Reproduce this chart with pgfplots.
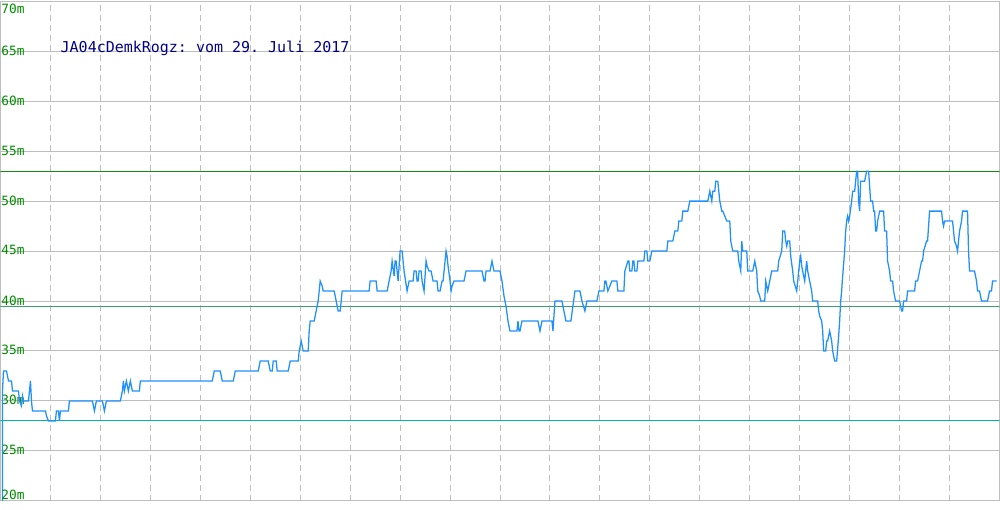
\documentclass[border=0pt]{standalone}
\usepackage{pgfplots}
\pgfplotsset{compat=1.18}
\usepackage{fontspec}
\setmainfont{Liberation Sans}
\setmonofont{DejaVu Sans Mono}
\definecolor{curve}{RGB}{30,144,255}
\definecolor{gridc}{RGB}{190,190,190}
\definecolor{lblgreen}{RGB}{0,140,0}
\definecolor{ttl}{RGB}{0,0,140}
\definecolor{topg}{RGB}{20,140,20}
\definecolor{midg}{RGB}{60,160,110}
\definecolor{teal2}{RGB}{0,180,180}
\begin{document}
\begin{tikzpicture}
\begin{axis}[
  scale only axis,
  width=750pt, height=375pt,
  xmin=0, xmax=1000, ymin=20, ymax=70,
  xtick={50,100,...,950}, xticklabels={},
  ytick={20,25,...,70},
  yticklabels={,25m,30m,35m,40m,45m,50m,55m,60m,65m,},
  yticklabel style={anchor=west, inner sep=0pt, xshift=0.5pt, yshift=0.5pt, text=lblgreen, font=\ttfamily\fontsize{9.6pt}{10pt}\selectfont},
  major tick length=0pt,
  xmajorgrids, ymajorgrids,
  x grid style={gridc, line width=0.75pt, dash pattern=on 4.5pt off 3pt},
  y grid style={gridc, line width=0.75pt},
  axis line style={gridc, line width=0.75pt},
  clip=true,
]
\addplot[topg, line width=0.75pt, forget plot] coordinates {(0,53) (1000,53)};
\addplot[midg, line width=0.75pt, forget plot] coordinates {(0,39.5) (1000,39.5)};
\addplot[teal2, line width=0.75pt, forget plot] coordinates {(0,28) (1000,28)};
\addplot[curve, line width=0.95pt] coordinates {
(2,20) (2,31) (3,33) (6,33) (7,32.5) (8,32) (11,32) (12,31) (18,31) (19,30) (21,29.5) (22,30.5) (23,30) (28,30) (29,31) (30,32) (31,30) (32,29) (45,29) (46,28.5) (48,28) (55,28) (56,29) (58,29) (59,28) (60,29) (68,29) (69,30) (92,30) (94,29) (96,30) (102,30) (104,29) (106,30) (120,30) (122,31) (123,32) (124,31) (126,32) (128,31) (130,32) (132,31) (135,31) (139,31) (140,32)
(212,32) (214,33) (220,33) (222,32) (233,32) (235,33) (258,33) (260,34) (268,34) (270,33) (272,33) (273,34) (276,34) (277,33) (288,33) (290,34) (298,34) (299,35) (301,36) (303,35) (308,35) (309,37) (310,38) (314,38) (316,39) (318,40) (319,41) (320,42) (322,41.5) (323,41) (334,41) (336,40) (338,39) (340,39) (342,41) (369,41) (370,42) (376,42) (377,41) (387,41) (389,42) (391,43) (392,44) (394,42.5) (395,44) (396,44) (397,43) (398,42) (400,45) (402,45) (404,43) (407,41) (409,42) (413,42) (414,43) (416,43) (417,42) (418,42) (419,43) (421,43) (422,42) (424,41) (426,44) (427,43.5) (429,43) (431,43) (433,42) (437,42) (438,41) (440,41) (442,42) (443,42) (444,43) (446,45) (447,44.5) (448,43.5) (450,42) (451,41) (452,41.5) (454,42) (464,42) (466,43) (482,43) (484,42) (485,42) (486,43) (490,43) (492,44) (494,43) (500,43) (502,42) (504,40.5) (506,39.5) (508,38) (510,37) (517,37) (518,38) (519,37) (520,37) (522,38) (538,38) (540,37) (542,38) (552,38) (553,37) (555,40) (562,40) (564,39) (566,38) (571,38) (573,39.5) (575,41) (580,41) (582,40) (585,39) (587,40) (597,40) (599,41)
(604,41) (605,42) (606,42) (608,41) (610,41.5) (612,42) (617,42) (618,41) (624,41) (625,43) (628,44) (629,44) (630,43) (632,43) (633,44) (634,44) (635,43) (637,43) (638,44) (644,44) (645,45) (647,45) (648,44) (650,44) (652,45) (667,45) (668,46) (673,46) (675,47) (678,47) (679,48) (682,48) (683,49) (688,49) (690,50) (708,50) (710,51) (712,50) (713,51) (715,51) (716,52) (718,52) (720,50) (722,49) (723,49) (725,48.5) (727,48) (730,48) (731,46) (733,45) (738,45) (739,44) (741,43) (742,46) (743,45) (747,45) (748,43) (753,43) (755,44) (757,43) (758,41) (760,40.5) (761,40) (765,40) (766,42) (768,41) (770,42) (772,43) (778,43) (779,44) (782,45) (783,47) (785,47) (786,46) (787,45.5) (788,46) (790,46) (791,44.5) (793,43) (794,42) (797,41) (798,42) (800,44) (801,44.5) (802,43.5) (803,43) (805,42) (807,44) (808,43) (810,42) (812,41) (813,40) (818,40) (819,39) (820,38.5) (822,38) (823,37) (824,35) (826,35) (827,36) (828,36) (830,37) (832,36) (833,35) (835,34) (837,34) (839,36.5) (840,38) (841,40) (842,41) (843,42.5) (845,45) (846,47) (847,48) (848,48.5) (849,48) (850,48.5) (852,50) (853,51) (855,51) (857,53) (858,53) (859,50) (860,49) (861,52) (865,52) (867,53) (869,53) (871,50) (873,50) (874,49) (875,49) (876,47) (877,47) (878,48) (880,49) (884,49) (885,47) (887,47) (888,44) (890,43) (891,42) (893,42) (894,41) (896,40) (900,40) (902,39) (903,39) (904,40) (907,40) (908,41) (915,41) (916,42) (918,42) (920,43) (922,44) (923,44) (924,45) (927,46) (928,46) (930,49) (942,49) (943,48) (944,47.5) (945,48) (953,48) (955,46) (957,45.5) (958,45) (960,47) (962,48) (963,49) (968,49) (969,45) (970,43) (975,43) (977,42) (978,41) (980,41) (982,40) (988,40) (990,41) (992,41) (993,42) (997,42)
};
\node[anchor=north west, inner sep=0pt, xshift=0.5pt, yshift=-2pt, text=lblgreen, font=\ttfamily\fontsize{9.6pt}{10pt}\selectfont] at (axis cs:0,70) {70m};
\node[anchor=south west, inner sep=0pt, xshift=0.5pt, yshift=1pt, text=lblgreen, font=\ttfamily\fontsize{9.6pt}{10pt}\selectfont] at (axis cs:0,20) {20m};
\node[anchor=west, inner sep=0pt, text=ttl, font=\ttfamily\fontsize{11.25pt}{12pt}\selectfont] at (axis cs:60,65.25) {JA04cDemkRogz: vom 29. Juli 2017};
\end{axis}
\end{tikzpicture}
\end{document}
